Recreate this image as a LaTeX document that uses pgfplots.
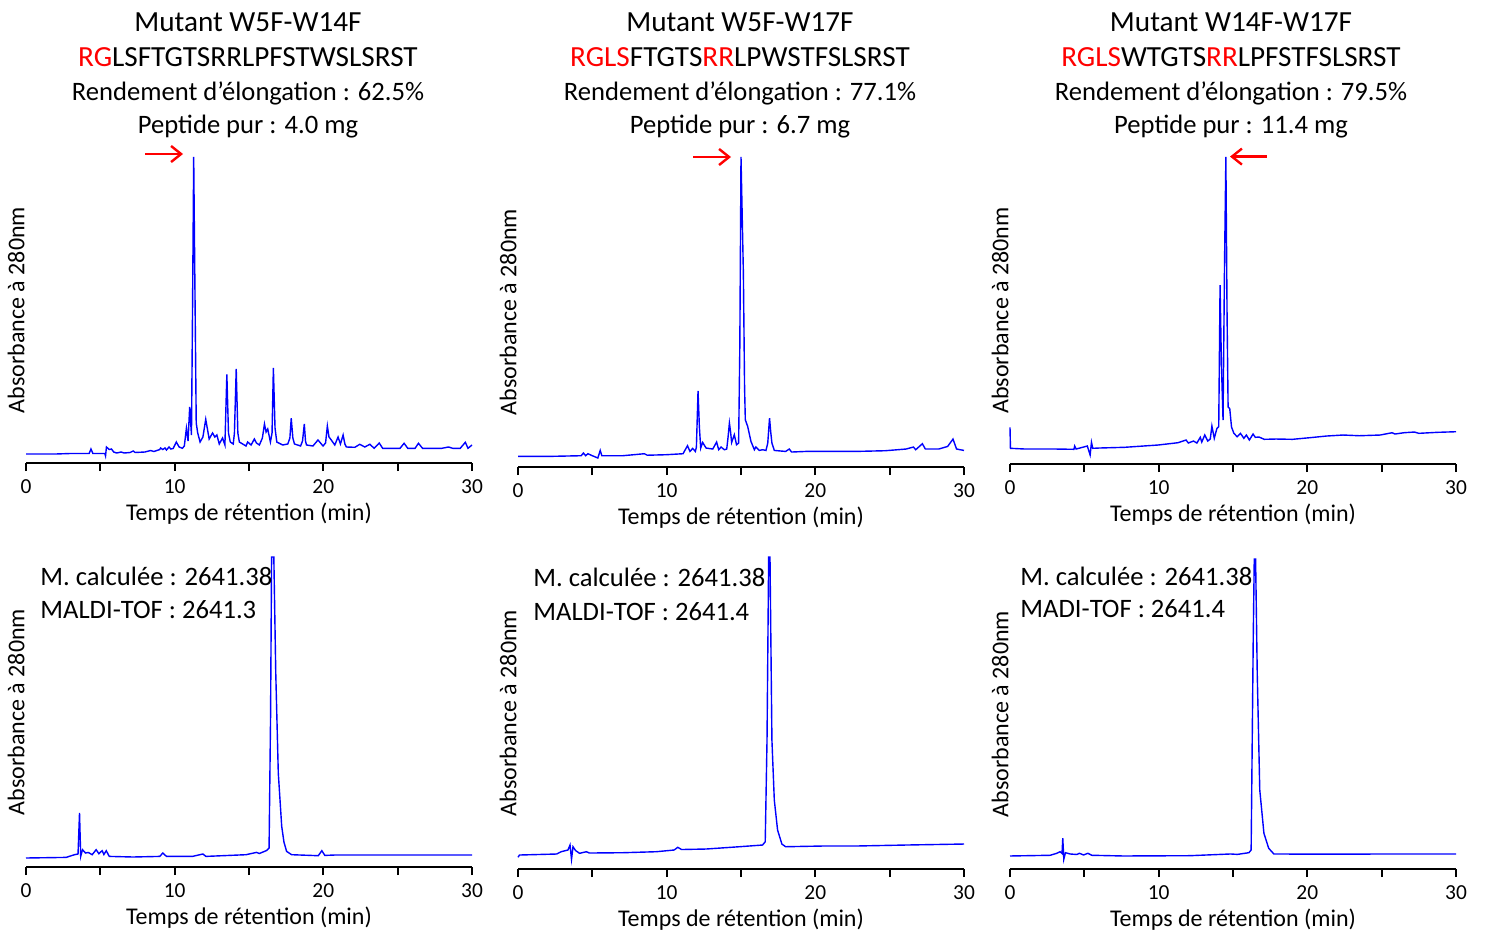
\documentclass[border=0pt]{standalone}
\usepackage{fontspec}
\setmainfont{Carlito}
\usepackage{xcolor}
\usepackage{pgfplots}
\pgfplotsset{compat=1.18}
\usetikzlibrary{arrows.meta}
\definecolor{trace}{RGB}{0,0,255}
\definecolor{mred}{RGB}{255,0,0}
\pgfplotsset{
  chrom/.style={
    scale only axis, width=223pt,
    xmin=0, xmax=30, ymin=0, enlargelimits=false, clip=false,
    axis lines*=left, y axis line style={draw=none},
    x axis line style={line width=1.1pt},
    ytick=\empty,
    xtick={0,5,...,30}, xticklabels={0,,10,,20,,30},
    tick align=outside, major tick length=4pt,
    every tick/.style={black, line width=1pt},
    xticklabel style={font=\fontsize{10.7}{12}\selectfont, anchor=north, yshift=-1pt},
    xlabel={Temps de rétention (min)},
    xlabel style={font=\fontsize{12}{14}\selectfont, at={(axis description cs:0.5,0)}, anchor=base, yshift=-28.7pt},
    ylabel={Absorbance à 280nm},
    ylabel style={font=\fontsize{12}{14}\selectfont, at={(axis description cs:0,0.5)}, anchor=south, inner sep=0.5pt},
    no markers,
    every axis plot/.append style={trace, line width=0.7pt, mark=none},
  }
}
\begin{document}
\begin{tikzpicture}
\useasboundingbox (0pt,0pt) rectangle (742.5pt,-465.5pt);

% ---------- titles ----------
\begin{scope}[every node/.style={anchor=base, font=\fontsize{13.3}{15}\selectfont, inner sep=0pt}]
\node[font=\fontsize{14.6}{16}\selectfont] at (124pt,-16pt) {Mutant W5F-W14F};
\node[font=\fontsize{14.6}{16}\selectfont] at (124pt,-33.5pt) {\textcolor{mred}{RG}LSFTGTSRRLPFSTWSLSRST};
\node at (124pt,-50.5pt) {Rendement d’élongation : 62.5\%};
\node at (124pt,-67pt) {Peptide pur : 4.0 mg};
\node[font=\fontsize{14.6}{16}\selectfont] at (370pt,-16pt) {Mutant W5F-W17F};
\node[font=\fontsize{14.6}{16}\selectfont] at (370pt,-33.5pt) {\textcolor{mred}{RGLS}FTGTS\textcolor{mred}{RR}LPWSTFSLSRST};
\node at (370pt,-50.5pt) {Rendement d’élongation : 77.1\%};
\node at (370pt,-67pt) {Peptide pur : 6.7 mg};
\node[font=\fontsize{14.6}{16}\selectfont] at (615.5pt,-16pt) {Mutant W14F-W17F};
\node[font=\fontsize{14.6}{16}\selectfont] at (615.5pt,-33.5pt) {\textcolor{mred}{RGLS}WTGTS\textcolor{mred}{RR}LPFSTFSLSRST};
\node at (615.5pt,-50.5pt) {Rendement d’élongation : 79.5\%};
\node at (615.5pt,-67pt) {Peptide pur : 11.4 mg};
\end{scope}

% ---------- P1 ----------
\begin{axis}[chrom, at={(13pt,-231.5pt)}, anchor=south west, height=153pt, ymax=306]
\addplot coordinates {(0,9) (1,9) (2,9) (3,9.5) (4.25,9.5) (4.37,14) (4.5,9.5) (5.3,9.5) (5.35,7) (5.41,16) (5.6,13.5) (5.75,14) (5.9,11) (6.1,10) (6.4,11) (6.6,10) (7.0,10.5) (7.21,12) (7.35,10.5) (8.0,11) (8.38,12.5) (8.6,11.5) (9.0,13.5) (9.05,15) (9.2,13.5) (9.35,15) (9.45,13) (9.62,16) (9.75,14) (9.9,14.5) (10.11,21) (10.3,16) (10.52,14.7) (10.65,17) (10.79,34.7) (10.9,22) (11.01,56) (11.13,28) (11.2,150) (11.28,306) (11.36,180) (11.45,40) (11.55,30) (11.71,21) (11.9,26) (12.09,43.7) (12.32,24) (12.55,30) (12.7,26) (12.84,28) (13.0,19) (13.22,25) (13.38,18) (13.51,88.7) (13.62,30) (13.74,21) (13.94,19) (14.02,30) (14.14,94) (14.25,30) (14.35,21) (14.8,17) (14.91,21) (15.14,18) (15.36,24) (15.5,20) (15.7,18) (15.9,25) (16.04,39) (16.15,31) (16.26,34) (16.44,21) (16.55,30) (16.64,95) (16.75,35) (16.87,21) (17.27,18) (17.61,19) (17.75,25) (17.84,44.7) (17.95,25) (18.06,19) (18.47,17) (18.6,22) (18.72,39) (18.8,22) (18.87,18) (19.3,17) (19.64,23) (19.98,17) (20.15,20) (20.27,37) (20.38,26) (20.5,23.7) (20.77,18) (20.99,26) (21.15,19) (21.33,28) (21.45,19) (21.55,16) (22.12,15.7) (22.45,18.7) (22.79,16) (23.13,18.7) (23.42,14.7) (23.76,20) (23.99,14.7) (25.16,14.7) (25.43,19.7) (25.68,14.7) (26.17,14.7) (26.4,19.7) (26.67,14.7) (27.97,14.7) (28.42,16) (28.7,14.7) (29.21,14.7) (29.55,20.7) (29.73,14.7) (30,18)};
\end{axis}

% ---------- P2 ----------
\begin{axis}[chrom, at={(259pt,-233.5pt)}, anchor=south west, height=155pt, ymax=310.6]
\addplot coordinates {(0,10.6) (2,10.6) (4.25,11.3) (4.4,14) (4.55,11.3) (4.7,13.3) (5.0,11.3) (5.37,9) (5.53,16.6) (5.64,11.3) (7.05,11.3) (8.5,13.3) (8.7,11.8) (9.96,12.3) (11.1,13.3) (11.4,21.3) (11.57,15.6) (11.75,18.6) (11.93,15.6) (12.0,20) (12.11,76.3) (12.2,40) (12.29,19) (12.42,24.6) (12.65,19) (13.1,18) (13.36,25) (13.5,17.3) (13.66,20) (13.88,17.3) (14.04,18) (14.13,30) (14.22,44) (14.3,35) (14.37,24.6) (14.55,32.3) (14.7,22.3) (14.84,24) (14.92,120) (15.0,310.6) (15.16,194) (15.24,80) (15.29,47.3) (15.45,40.6) (15.67,25.6) (15.9,17.3) (16.0,20) (16.23,16.6) (16.45,17.3) (16.68,16.6) (16.8,24) (16.92,49) (17.0,35) (17.08,24) (17.24,16.6) (18.0,15.6) (18.25,18) (18.4,15) (19.36,15.6) (20.9,15.6) (22.7,15.6) (24.7,16.3) (26.1,18) (26.6,20) (26.75,17.3) (27.2,23.3) (27.4,18) (28.3,18) (28.9,20.6) (29.26,28) (29.5,18) (30,16.6)};
\end{axis}

% ---------- P3 ----------
\begin{axis}[chrom, at={(505pt,-232pt)}, anchor=south west, height=153.5pt, ymax=307.3]
\addplot coordinates {(0,36.7) (0.03,15.7) (1,15) (2,15) (3,15) (4.3,14.7) (4.35,18) (4.45,15) (5.2,18) (5.39,9) (5.48,21.7) (5.57,15.7) (6,16) (7.7,16.7) (9.96,19) (11.3,21.3) (11.84,24) (12.0,21) (12.34,23) (12.57,21) (12.8,26.7) (12.9,22) (13.1,29) (13.3,23) (13.47,25) (13.58,38) (13.74,25.7) (13.92,35.7) (14.04,37.3) (14.13,179) (14.22,100) (14.33,44) (14.43,200) (14.52,307.3) (14.6,150) (14.67,57) (14.78,55.5) (14.9,37) (15.06,30.7) (15.28,27.3) (15.5,30.7) (15.73,25.7) (15.9,29) (16.1,24) (16.35,30) (16.5,26.7) (16.75,27) (17.1,24.7) (17.9,25) (19.0,24.7) (20.15,26.3) (21.3,28) (22.4,29) (23.5,28.3) (24.9,29) (25.7,31.3) (25.9,30) (26.5,31.3) (27.2,32) (27.5,30.7) (28.75,31.7) (30,32.3)};
\end{axis}

% ---------- P4 ----------
\begin{axis}[chrom, at={(13pt,-433.5pt)}, anchor=south west, height=155pt, ymax=310]
\addplot coordinates {(0,9) (2.7,9.6) (3.26,12.3) (3.5,13) (3.6,54) (3.68,10.6) (3.8,17.3) (4.0,14) (4.2,14.5) (4.45,12.3) (4.72,17.3) (4.9,13.3) (5.12,16.3) (5.24,12.5) (5.4,16.3) (5.6,10.6) (7.2,10) (9.0,10.6) (9.2,14) (9.45,10.6) (11.2,10.6) (11.9,13) (12.1,10.6) (14.8,12.3) (15.5,14.6) (15.7,13.5) (16.2,16.6) (16.35,19) (16.45,150) (16.52,310) (16.67,310) (16.8,194) (16.97,94) (17.2,40.6) (17.35,25) (17.53,15.6) (17.87,12.3) (19.66,11.3) (19.9,16.3) (20.1,11.6) (20.8,12) (21.8,12) (26.07,12) (30,12)};
\end{axis}

% ---------- P5 ----------
\begin{axis}[chrom, at={(259pt,-434.5pt)}, anchor=south west, height=156pt, ymax=312.3]
\addplot coordinates {(0,11.7) (0.1,14) (2.6,15) (2.9,17.3) (3.36,19) (3.5,24) (3.6,9.7) (3.7,22.3) (3.87,18.5) (4.14,15.7) (4.6,17.3) (4.8,16) (7.05,16.3) (9.3,17.3) (10.5,19) (10.75,21.7) (11.0,19.5) (12.65,20) (14.9,22.3) (16.45,24) (16.63,27.3) (16.75,129) (16.86,312.3) (16.95,312.3) (17.08,129) (17.24,69) (17.46,39) (17.75,25) (18.0,22.3) (20.5,23) (22.7,23) (26.1,24) (30,25)};
\end{axis}

% ---------- P6 ----------
\begin{axis}[chrom, at={(505pt,-434.5pt)}, anchor=south west, height=155pt, ymax=309.7]
\addplot coordinates {(0,13) (2.7,13.7) (3.15,15.7) (3.37,17.3) (3.5,15.5) (3.55,30.7) (3.62,9.7) (3.73,16.3) (4.04,15) (4.5,14.5) (4.67,15.7) (4.95,14) (5.24,15.7) (5.5,13.7) (7.64,13) (12.1,13.3) (14.83,15) (15.3,14.6) (16.07,16.3) (16.22,19) (16.36,229) (16.43,309.7) (16.52,309.7) (16.63,195.7) (16.8,79) (17.08,35.7) (17.4,20.7) (17.75,15) (21.1,14.8) (25.6,15) (30,15)};
\end{axis}

% ---------- annotations ----------
\begin{scope}[every node/.style={anchor=base west, font=\fontsize{13.3}{15}\selectfont, inner sep=0pt}]
\node at (20pt,-292.5pt) {M. calculée : 2641.38};
\node at (20pt,-309pt) {MALDI-TOF : 2641.3};
\node at (266.5pt,-293.3pt) {M. calculée : 2641.38};
\node at (266.5pt,-310.3pt) {MALDI-TOF : 2641.4};
\node at (510pt,-292.5pt) {M. calculée : 2641.38};
\node at (510pt,-308.5pt) {MADI-TOF : 2641.4};
\end{scope}
\begin{scope}[mred, line width=1.2pt, -{Straight Barb[length=5pt,width=8pt]}]
\draw (72.5pt,-77pt) -- (91.5pt,-77pt);
\draw (346.5pt,-78.5pt) -- (365.5pt,-78.5pt);
\draw (633.3pt,-78.3pt) -- (615pt,-78.3pt);
\end{scope}
\end{tikzpicture}
\end{document}
